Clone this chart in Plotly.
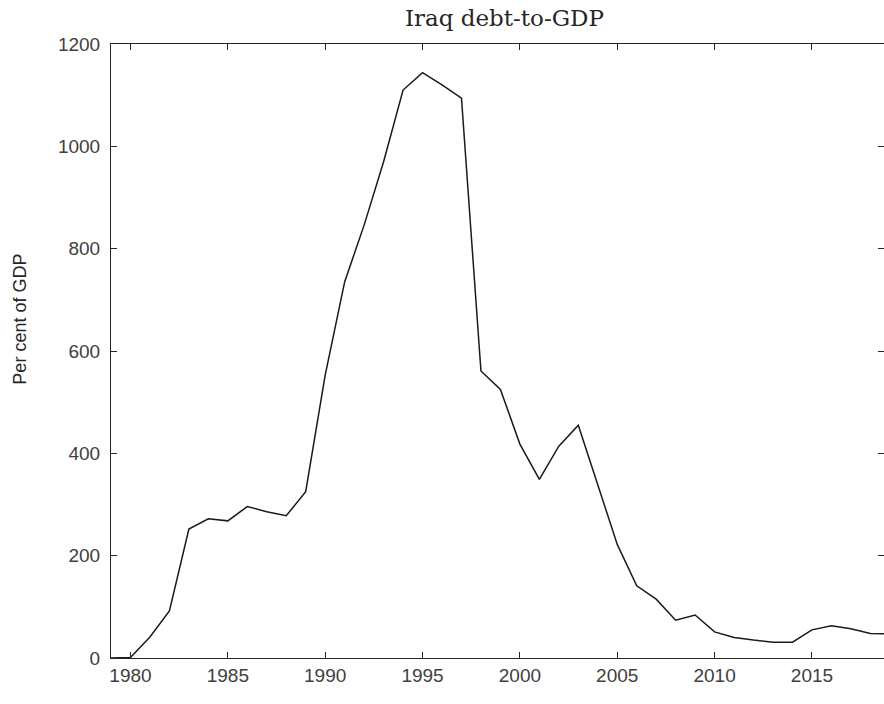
import plotly.graph_objects as go

years = list(range(1979, 2020))
debt_to_gdp = [0, 1, 41, 92, 252, 272, 268, 296, 286, 278, 325,
               553, 735, 846, 970, 1110, 1144, 1120, 1094, 561, 525,
               418, 349, 414, 455, 340, 222, 141, 115, 74, 84,
               51, 40, 35, 31, 31, 55, 63, 57, 48, 47]

y_ticks = [0, 200, 400, 600, 800, 1000, 1200]
x_ticks = [1980, 1985, 1990, 1995, 2000, 2005, 2010, 2015]

fig = go.Figure()
fig.add_trace(go.Scatter(x=years, y=debt_to_gdp, mode="lines",
                         line=dict(color="#1a1a1a", width=1.5), showlegend=False))

fig.update_layout(
    width=884, height=704, autosize=False,
    paper_bgcolor="white", plot_bgcolor="white",
    margin=dict(l=111, r=0, t=44, b=46),
    title=dict(text="Iraq debt-to-GDP", x=0.5707, xanchor="center", y=0.974, yanchor="middle",
               font=dict(family="DejaVu Serif", size=23, color="#262626")),
    font=dict(family="Liberation Sans", size=19, color="#262626"),
    annotations=[dict(text="Per cent of GDP", xref="paper", yref="paper",
                      x=-0.117, y=0.552, xanchor="center", yanchor="middle",
                      textangle=-90, showarrow=False,
                      font=dict(family="Liberation Sans", size=18, color="#262626"))],
)
fig.update_xaxes(range=[1979, 2018.7], tickvals=x_ticks, ticks="inside", ticklen=6,
                 tickcolor="#262626", showline=True, linecolor="#262626", linewidth=1,
                 mirror="ticks", showgrid=False, zeroline=False,
                 tickfont=dict(size=19, color="#404040"))
fig.update_yaxes(range=[0, 1200], tickvals=y_ticks, ticks="inside", ticklen=6,
                 tickcolor="#262626", showline=True, linecolor="#262626", linewidth=1,
                 mirror="ticks", showgrid=False, zeroline=False, ticklabelstandoff=6,
                 tickfont=dict(size=19, color="#404040"))

fig.write_html("out.html", config={"displayModeBar": False},
               post_script="document.body.style.margin='0px';document.body.style.overflow='hidden';")
